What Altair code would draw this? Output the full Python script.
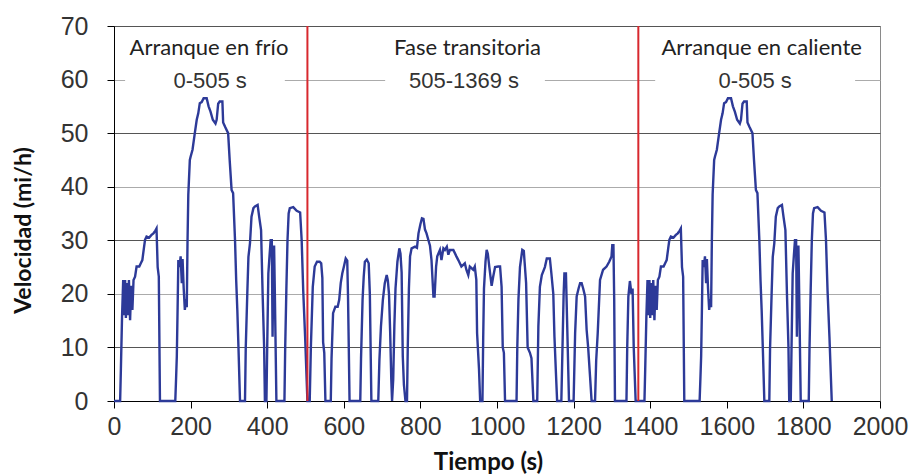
import altair as alt
import pandas as pd

# Cold-start phase (first 505 s of the cycle): time (s) and speed (mi/h)
cold_t = [0, 16, 18, 21, 24, 27, 29, 31, 34, 36, 39, 42, 45, 48, 51, 55, 59, 66, 70, 74,
          78, 81, 85, 92, 98, 103, 108, 111, 114, 117, 120, 160, 162, 164, 166, 168, 171, 174, 177, 179,
          182, 185, 188, 190, 192, 194, 198, 200, 205, 211, 216, 220, 224, 229, 234, 242, 247, 252, 258, 265,
          268, 272, 276, 283, 285, 290, 298, 302, 307, 311, 316, 319, 322, 325, 329, 342, 344, 348, 351, 355,
          359, 364, 368, 375, 379, 384, 388, 392, 394, 398, 400, 403, 406, 409, 412, 414, 416, 418, 420, 424,
          445, 447, 450, 453, 456, 459, 468, 477, 486, 490, 494, 499, 505]
cold_v = [0, 0, 6, 15.7, 22.6, 16, 22.6, 15.5, 22, 16, 22.6, 15.1, 21.5, 17, 22.6, 23.2, 25.1, 25.1, 25.7, 26.3,
          28.5, 30.1, 30.7, 30.5, 31, 31.3, 31.8, 32.2, 25, 23.2, 0, 0, 4, 8.3, 17, 26.3, 25, 27, 22, 26.5,
          21, 17, 19, 17.5, 30, 38.5, 45, 45.6, 46.9, 50, 52.5, 53.7, 55.6, 55.8, 56.5, 56.5, 55, 54, 52.5, 51.8,
          52.5, 55.5, 55.9, 55.9, 52, 51.2, 50, 45, 39.4, 38.8, 30, 22.6, 17, 10, 0, 0, 10, 20, 26.9, 29.4,
          34.4, 36, 36.3, 36.6, 34.4, 31.9, 20.1, 10, 0, 0, 10, 23.8, 27, 30, 30, 12, 24, 29, 20, 0,
          0, 10, 20.7, 30, 35, 36, 36.2, 35.5, 35.2, 30, 20.7, 12, 0]

# Transitional phase, 505-1369 s
trans_t = [511, 514, 519, 524, 530, 537, 541, 544, 546, 549, 552, 566, 568, 572, 578, 584, 588, 592, 596, 600,
           605, 609, 611, 613, 615, 643, 645, 649, 652, 655, 660, 665, 668, 670, 672, 690, 693, 697, 702, 707,
           712, 715, 718, 721, 724, 726, 729, 732, 735, 740, 745, 748, 751, 754, 757, 761, 765, 767, 770, 773,
           777, 786, 791, 795, 800, 804, 808, 812, 816, 821, 825, 829, 834, 837, 841, 844, 851, 855, 860, 864,
           869, 873, 877, 886, 894, 899, 907, 916, 920, 925, 929, 938, 942, 946, 948, 953, 956, 962, 964, 966,
           970, 973, 976, 980, 986, 990, 995, 1003, 1008, 1012, 1015, 1018, 1021, 1051, 1053, 1056, 1060, 1066, 1070, 1072,
           1076, 1080, 1086, 1090, 1095, 1105, 1108, 1112, 1117, 1125, 1130, 1138, 1142, 1147, 1150, 1154, 1157, 1168, 1171, 1174,
           1176, 1180, 1183, 1188, 1200, 1204, 1208, 1213, 1217, 1221, 1225, 1230, 1234, 1238, 1243, 1247, 1256, 1259, 1263, 1269,
           1277, 1286, 1293, 1299, 1301, 1304, 1306, 1308, 1338, 1340, 1343, 1347, 1351, 1354, 1357, 1362, 1369]
trans_v = [0, 10, 21.3, 25.1, 26, 26, 25.7, 23, 11, 9, 0, 0, 8, 16.4, 17.6, 17.6, 18.9, 22, 23.8, 25,
           26.6, 26.2, 19.5, 10, 0, 0, 8, 18.9, 23.2, 26, 26.4, 25.7, 20, 10, 0, 0, 7.7, 13.9, 18.9, 22,
           23.5, 22.5, 20, 13, 4, 0, 4, 14, 21, 26, 28.5, 27.5, 24, 8.3, 3, 0, 0, 10, 21, 27,
           28.5, 28.8, 28.6, 31.3, 33, 34.1, 34, 32, 31.3, 30, 29, 26.3, 19.5, 19.5, 25.1, 27, 28.2, 26.3, 28.5, 28.2,
           28.8, 27.3, 28.2, 28.2, 27, 26.3, 25.1, 25.7, 24.5, 23.5, 25.1, 24.5, 25.1, 22.6, 12.7, 6, 0, 0, 12, 21,
           26, 28.2, 27.5, 25, 21.5, 23.2, 25, 25.1, 25.1, 21.3, 10, 9, 0, 0, 10, 19, 25, 28.2, 28, 26,
           22, 10, 9, 8, 0, 0, 13.9, 21.3, 23.5, 25, 26.6, 26.6, 23.8, 20, 12, 5, 0, 0, 10, 20,
           23.8, 23.8, 15, 0, 0, 12.7, 19.5, 21, 22, 22, 21, 19.5, 13.3, 10, 4.5, 0, 0, 7.6, 12.7, 22.6,
           24.5, 25.1, 26, 27, 29.1, 29.1, 19, 0, 0, 10, 19.5, 22.4, 20, 21, 10, 0, 0]

# The hot-start phase repeats the cold-start profile once the transitional phase ends
hot_start = 1369
phase_limits = [505, 1369]

x_ticks = list(range(0, 2001, 200))
y_ticks = list(range(0, 71, 10))

# Phase captions: centre time and text of each line
caption_t = [248, 923, 1691]
caption_titles = ["Arranque en frío", "Fase transitoria", "Arranque en caliente"]
range_t = [251, 914, 1674]
range_texts = ["0-505 s", "505-1369 s", "0-505 s"]
caption_box_t = [29, 708, 1413]
caption_box_t2 = [446, 1125, 1935]

times = cold_t + trans_t + [t + hot_start for t in cold_t]
speeds = cold_v + trans_v + cold_v
trace = pd.DataFrame({"t": times, "v": speeds, "i": range(len(times))})

x_scale = alt.Scale(domain=[0, 2000], nice=False)
y_scale = alt.Scale(domain=[0, 70], nice=False)

x_axis = alt.Axis(
    values=x_ticks, format="d", title="Tiempo (s)", grid=False, labelFlush=False, labelOverlap=False,
    labelFont="Liberation Sans", labelFontSize=25, labelColor="#333333", labelPadding=6,
    tickSize=7, tickColor="#000000", domainColor="#000000",
    titleFont="Lato", titleFontSize=24, titleFontWeight="bold", titleColor="#111111",
    titleX=374, titleY=61, titleBaseline="middle", titleAlign="center",
)
y_axis = alt.Axis(
    values=y_ticks, format="d", title="Velocidad (mi/h)", grid=True,
    gridColor={"condition": {"test": "datum.value % 20 == 10", "value": "#555555"}, "value": "#ababab"},
    gridWidth=1.2, labelFont="Liberation Sans", labelFontSize=25, labelColor="#333333",
    labelPadding=19, tickSize=7, tickColor="#000000", domainColor="#000000",
    titleFont="Lato", titleFontSize=23, titleFontWeight="bold", titleColor="#111111",
    titleX=-91, titleY=204, titleBaseline="middle", titleAlign="center", titleAngle=-90,
)

line = alt.Chart(trace).mark_line(color="#2d3a98", strokeWidth=2.4).encode(
    x=alt.X("t:Q", scale=x_scale, axis=x_axis),
    y=alt.Y("v:Q", scale=y_scale, axis=y_axis),
    order="i:Q",
)

boxes = alt.Chart(pd.DataFrame({"t": caption_box_t, "t2": caption_box_t2})).mark_rect(
    color="white"
).encode(
    x=alt.X("t:Q", scale=x_scale),
    x2="t2:Q",
    y=alt.value(8),
    y2=alt.value(66),
)

limits = alt.Chart(pd.DataFrame({"t": phase_limits})).mark_rule(
    color="#d8282e", strokeWidth=2
).encode(x=alt.X("t:Q", scale=x_scale))

titles = alt.Chart(pd.DataFrame({"t": caption_t, "label": caption_titles})).mark_text(
    font="Lato", fontSize=22, color="#222222", baseline="middle", align="center"
).encode(x=alt.X("t:Q", scale=x_scale), y=alt.value(22), text="label:N")

ranges = alt.Chart(pd.DataFrame({"t": range_t, "label": range_texts})).mark_text(
    font="Liberation Sans", fontSize=22, color="#333333", baseline="middle", align="center"
).encode(x=alt.X("t:Q", scale=x_scale), y=alt.value(55), text="label:N")

chart = alt.layer(boxes, line, limits, titles, ranges).properties(
    width=766, height=375,
    autosize=alt.AutoSizeParams(type="none"),
    padding={"left": 114, "top": 26, "right": 33, "bottom": 73},
    background="white",
).configure_view(stroke="#8a8a8a", strokeWidth=1)

chart.save("out.html", embed_options={"renderer": "svg", "actions": False})
